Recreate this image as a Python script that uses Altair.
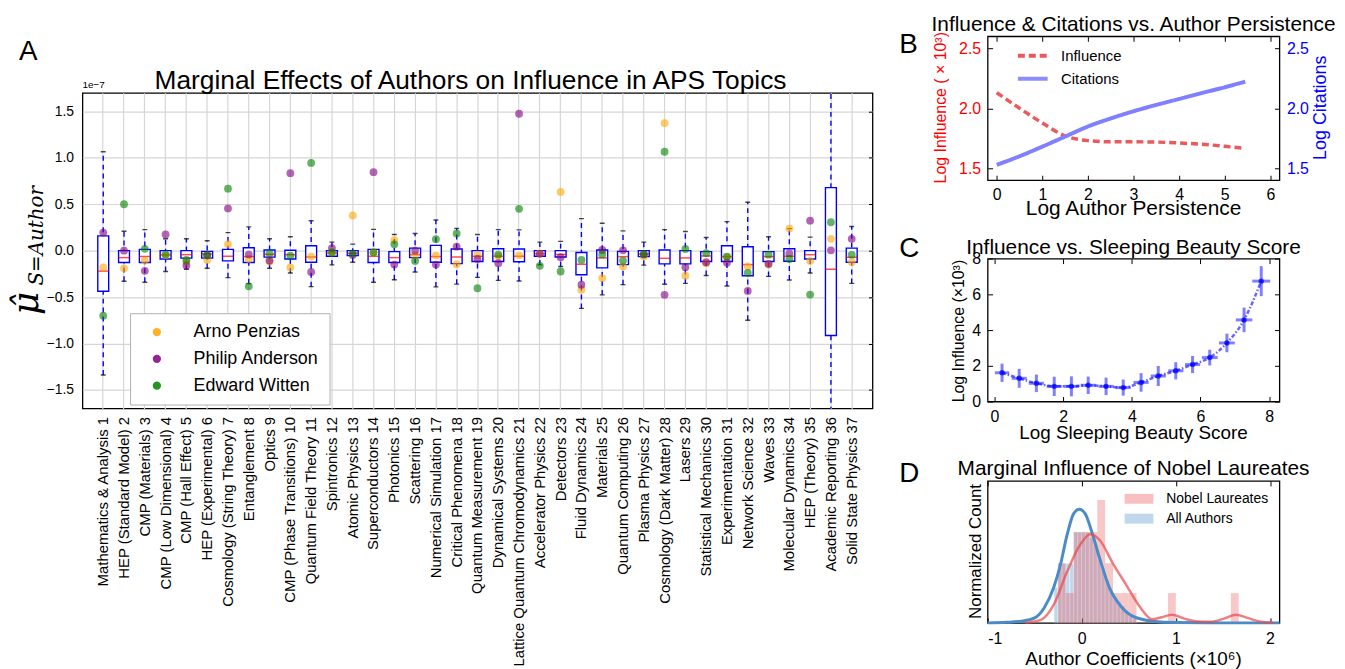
import altair as alt
import pandas as pd

FONT = "Liberation Sans"

# ---------------- Panel A data (values in units of 1e-7) ----------------
topics = ["Mathematics & Analysis 1", "HEP (Standard Model) 2", "CMP (Materials) 3", "CMP (Low Dimensional) 4",
          "CMP (Hall Effect) 5", "HEP (Experimental) 6", "Cosmology (String Theory) 7", "Entanglement 8",
          "Optics 9", "CMP (Phase Transitions) 10", "Quantum Field Theory 11", "Spintronics 12",
          "Atomic Physics 13", "Superconductors 14", "Photonics 15", "Scattering 16",
          "Numerical Simulation 17", "Critical Phenomena 18", "Quantum Measurement 19",
          "Dynamical Systems 20", "Lattice Quantum Chromodynamics 21", "Accelerator Physics 22",
          "Detectors 23", "Fluid Dynamics 24", "Materials  25", "Quantum Computing 26",
          "Plasma Physics 27", "Cosmology (Dark Matter) 28", "Lasers 29", "Statistical Mechanics 30",
          "Experimentation 31", "Network Science 32", "Waves 33", "Molecular Dynamics 34",
          "HEP (Theory) 35", "Academic Reporting 36", "Solid State Physics 37"]
whisker_low = [-1.34, -0.33, -0.34, -0.224, -0.20, -0.19, -0.29, -0.355, -0.19, -0.24, -0.387, -0.153,
               -0.124, -0.34, -0.313, -0.23, -0.39, -0.36, -0.288, -0.32, -0.327, -0.153, -0.17, -0.622,
               -0.476, -0.366, -0.156, -0.362, -0.352, -0.267, -0.38, -0.75, -0.277, -0.316, -0.24, -2.6,
               -0.352]
q1 = [-0.437, -0.128, -0.128, -0.09, -0.08, -0.08, -0.11, -0.128, -0.07, -0.09, -0.124, -0.06, -0.053,
      -0.128, -0.128, -0.075, -0.124, -0.139, -0.117, -0.117, -0.12, -0.06, -0.068, -0.26, -0.185, -0.15,
      -0.064, -0.142, -0.142, -0.117, -0.117, -0.27, -0.117, -0.114, -0.09, -0.913, -0.124]
median = [-0.22, -0.075, -0.064, -0.046, -0.043, -0.036, -0.06, -0.064, -0.04, -0.043, -0.068, -0.025,
          -0.028, -0.06, -0.075, -0.043, -0.064, -0.068, -0.06, -0.06, -0.06, -0.032, -0.04, -0.146,
          -0.078, -0.064, -0.036, -0.082, -0.078, -0.057, -0.064, -0.15, -0.064, -0.06, -0.043, -0.2,
          -0.071]
q3 = [0.16, 0.0, 0.014, 0.0, 0.0, -0.007, 0.014, 0.032, 0.007, 0.004, 0.053, 0.0, 0.0, 0.014, -0.01,
      0.028, 0.057, 0.018, 0.0, 0.021, 0.018, 0.0, 0.0, -0.02, 0.007, -0.007, 0.0, 0.007, 0.0, -0.01,
      0.053, 0.043, -0.01, 0.021, 0.0, 0.679, 0.028]
whisker_high = [1.066, 0.21, 0.227, 0.128, 0.128, 0.107, 0.195, 0.256, 0.128, 0.15, 0.323, 0.092, 0.071,
                0.23, 0.174, 0.185, 0.33, 0.24, 0.174, 0.227, 0.224, 0.092, 0.10, 0.345, 0.295, 0.213,
                0.092, 0.227, 0.206, 0.142, 0.313, 0.522, 0.15, 0.238, 0.146, 2.6, 0.26]
authors = ["Arno Penzias", "Philip Anderson", "Edward Witten"]
author_colors = ["orange", "purple", "green"]
penzias = [-0.18, -0.19, -0.107, -0.05, -0.12, -0.10, 0.07, -0.09, -0.117, -0.18, -0.064, -0.02, 0.38,
           -0.02, 0.114, -0.05, -0.05, -0.146, -0.043, -0.06, -0.05, -0.03, 0.633, -0.42, -0.295, -0.17,
           -0.064, 1.375, -0.27, -0.135, -0.07, -0.17, -0.15, 0.238, -0.11, 0.128, -0.124]
anderson = [0.195, 0.0, -0.217, 0.174, -0.16, -0.05, 0.455, -0.04, -0.107, 0.835, -0.23, 0.028, -0.046,
            0.846, -0.15, 0.0, -0.15, 0.043, -0.09, -0.135, 1.475, -0.035, -0.07, -0.366, 0.007, 0.004,
            -0.04, -0.476, -0.178, -0.124, -0.13, -0.434, -0.142, -0.03, 0.323, 0.004, 0.128]
witten = [-0.70, 0.50, 0.02, -0.04, -0.10, -0.046, 0.668, -0.384, -0.03, -0.053, 0.945, -0.018, -0.03,
          -0.02, 0.068, -0.11, 0.124, 0.185, -0.405, -0.04, 0.451, -0.163, -0.224, -0.1, -0.04, -0.107,
          -0.036, 1.066, 0.018, -0.028, -0.064, -0.24, -0.043, -0.09, -0.473, 0.306, -0.043]
a_yticks = [-1.5, -1.0, -0.5, 0.0, 0.5, 1.0, 1.5]

# ---------------- Panel B data ----------------
persist_x = [0, 0.5, 1, 1.5, 2, 2.5, 3, 3.5, 4, 4.5, 5, 5.45]
influence = [2.13, 2.0, 1.877, 1.77, 1.73, 1.72, 1.72, 1.718, 1.71, 1.70, 1.683, 1.664]
citations = [1.528, 1.60, 1.68, 1.764, 1.848, 1.915, 1.975, 2.028, 2.077, 2.127, 2.175, 2.222]

# ---------------- Panel C data ----------------
sb_x = [0.22, 0.72, 1.22, 1.74, 2.24, 2.73, 3.25, 3.75, 4.27, 4.77, 5.28, 5.77, 6.27, 6.77, 7.27, 7.77]
sb_y = [1.61, 1.30, 1.02, 0.85, 0.85, 0.91, 0.85, 0.78, 1.07, 1.43, 1.72, 2.07, 2.46, 3.28, 4.57, 6.74]
sb_yerr = [0.51, 0.53, 0.49, 0.54, 0.56, 0.49, 0.49, 0.45, 0.52, 0.56, 0.48, 0.48, 0.44, 0.52, 0.69, 0.84]
sb_xerr = [0.21, 0.22, 0.22, 0.22, 0.22, 0.22, 0.22, 0.22, 0.22, 0.22, 0.22, 0.22, 0.23, 0.23, 0.24, 0.26]

# ---------------- Panel D data ----------------
nobel_left = [-0.253, -0.170, -0.086, -0.003, 0.081, 0.165, 0.248, 0.332, 0.415, 0.499, 0.916, 1.584]
nobel_right = [-0.170, -0.086, -0.003, 0.081, 0.165, 0.248, 0.332, 0.415, 0.499, 0.582, 0.999, 1.667]
nobel_height = [0.42, 0.21, 0.64, 0.64, 0.64, 0.865, 0.42, 0.21, 0.21, 0.21, 0.21, 0.21]
all_left = [-0.295, -0.253, -0.211, -0.170, -0.128, -0.086, -0.044, -0.003, 0.039, 0.081, 0.123, 0.165,
            0.206, 0.248, 0.290, 0.332, 0.374, 0.415, 0.457, 0.499, 0.540]
all_right = [-0.253, -0.211, -0.170, -0.128, -0.086, -0.044, -0.003, 0.039, 0.081, 0.123, 0.165, 0.206,
             0.248, 0.290, 0.332, 0.374, 0.415, 0.457, 0.499, 0.540, 0.582]
all_height = [0.25, 0.42, 0.42, 0.42, 0.42, 0.64, 0.64, 0.64, 0.64, 0.60, 0.55, 0.45, 0.38, 0.30, 0.22,
              0.18, 0.15, 0.12, 0.08, 0.05, 0.03]
kde_all_x = [-1.0, -0.8, -0.64, -0.5, -0.4, -0.3, -0.226, -0.156, -0.086, -0.027, 0.036, 0.107, 0.19,
             0.296, 0.4, 0.54, 0.75, 1.0, 1.5, 2.1]
kde_all_y = [0.0, 0.004, 0.012, 0.035, 0.105, 0.245, 0.41, 0.62, 0.77, 0.80, 0.77, 0.64, 0.455, 0.245,
             0.13, 0.047, 0.012, 0.002, 0.0, 0.0]
kde_nobel_x = [-0.6, -0.43, -0.296, -0.156, -0.017, 0.09, 0.19, 0.33, 0.47, 0.61, 0.75, 0.85, 0.96, 1.09,
               1.23, 1.37, 1.51, 1.64, 1.76, 1.9, 2.04]
kde_nobel_y = [0.0, 0.023, 0.13, 0.36, 0.55, 0.624, 0.584, 0.42, 0.27, 0.12, 0.025, 0.04, 0.058, 0.03,
               0.01, 0.008, 0.03, 0.058, 0.035, 0.008, 0.0]
groups = ["Nobel Laureates", "All Authors"]

one = pd.DataFrame({"k": [0]})


def label(txt, x, y, size=28, align="left", color="black", angle=0, baseline="alphabetic", font=FONT,
          style="normal"):
    return alt.Chart(one).mark_text(text=txt, font=font, fontSize=size, align=align, angle=angle,
                                    baseline=baseline, color=color, fontStyle=style).encode(
        x=alt.value(x), y=alt.value(y))


def spacer(x1, y1, x2, y2):
    # invisible layout guide that fixes a panel's bounding box
    return alt.Chart(one).mark_rule(opacity=0, strokeWidth=0.1).encode(
        x=alt.value(x1), y=alt.value(y1), x2=alt.value(x2), y2=alt.value(y2))


# ================= Panel A header (letter) =================
headA = alt.layer(
    spacer(-64, 0, -64, 31),
    label("A", -64, 24),
).properties(width=10, height=1, view=alt.ViewBackground(strokeOpacity=0))

# ================= Panel A =================
WA, HA = 796, 318
box_df = pd.DataFrame({"topic": topics, "wlo": whisker_low, "q1": q1, "med": median, "q3": q3,
                       "whi": whisker_high})
rows = []
for name, vals in zip(authors, [penzias, anderson, witten]):
    for t, v in zip(topics, vals):
        rows.append({"topic": t, "author": name, "value": v})
pts_df = pd.DataFrame(rows)

xA = alt.X("topic:N", sort=topics,
           scale=alt.Scale(paddingInner=0.475, paddingOuter=0.7375),
           axis=alt.Axis(title=None, labelAngle=270, labelAlign="right", labelBaseline="middle",
                         labelFontSize=15, labelColor="black", labelPadding=8, ticks=False,
                         domain=False, grid=True, gridColor="#d6d6d6", gridWidth=1.2,
                         bandPosition=0.5, labelLimit=400))
yscaleA = alt.Scale(domain=[-1.7, 1.7], nice=False, zero=False)
yaxisA = alt.Axis(values=a_yticks, format=".1f", title=None, labelFontSize=14, labelColor="black",
                  grid=True, gridColor="#d6d6d6", gridWidth=1.2, ticks=False, domain=False,
                  labelPadding=9)
yaxisA_right = alt.Axis(orient="right", values=a_yticks, labels=False, title=None, offset=-4, tickSize=4,
                        domain=False, grid=False, tickColor="black")

baseA = alt.Chart(box_df)
whisk = baseA.mark_rule(color="blue", strokeDash=[5, 4], strokeWidth=1.4, clip=True).encode(
    x=xA, y=alt.Y("wlo:Q", scale=yscaleA, axis=yaxisA), y2="whi:Q")
boxes = baseA.mark_bar(fill="white", stroke="blue", strokeWidth=1.4, clip=True).encode(
    x=xA, y=alt.Y("q1:Q", scale=yscaleA, axis=None), y2="q3:Q")
meds = baseA.mark_tick(color="red", thickness=1.5, size=11).encode(
    x=xA, y=alt.Y("med:Q", scale=yscaleA, axis=None))
cap_lo = baseA.mark_tick(color="black", thickness=1.4, size=5, clip=True).encode(
    x=xA, y=alt.Y("wlo:Q", scale=yscaleA, axis=None))
cap_hi = baseA.mark_tick(color="black", thickness=1.4, size=5, clip=True).encode(
    x=xA, y=alt.Y("whi:Q", scale=yscaleA, axis=yaxisA_right))
dots = alt.Chart(pts_df).transform_calculate(
    ord="indexof(['Arno Penzias','Philip Anderson','Edward Witten'], datum.author)"
).mark_circle(size=62, opacity=0.6).encode(
    x=xA, y=alt.Y("value:Q", scale=yscaleA, axis=None),
    color=alt.Color("author:N", scale=alt.Scale(domain=authors, range=author_colors),
                    legend=alt.Legend(title=None, orient="none", legendX=48, legendY=222,
                                      fillColor="white", strokeColor="#b0b0b0", padding=10,
                                      labelFontSize=18, labelFont=FONT, symbolType="circle",
                                      symbolSize=70, symbolOpacity=0.85, symbolStrokeWidth=0,
                                      symbolOffset=8, labelOffset=28, rowPadding=9)),
    order=alt.Order("ord:Q"))

mu = label("\u03bc\u0302", -45, 212, size=36, align="center", angle=270, font="DejaVu Serif",
           style="italic")
mu_sub = label("S=Author", -40, 144, size=20, align="center", angle=270, font="DejaVu Serif",
               style="italic")

panelA = alt.layer(
    spacer(-74, 0, 816, 0), whisk, boxes, meds, cap_lo, cap_hi, dots, mu, mu_sub,
    label("Marginal Effects of Authors on Influence in APS Topics", 391, -4, size=26.5, align="center"),
    label("1e\u22127", 0, -3, size=10, baseline="bottom"),
).resolve_axis(y="independent").properties(width=WA, height=HA)

# ================= Panel B =================
WB, HB = 294, 145
infl_df = pd.DataFrame({"x": persist_x, "y": influence, "series": "Influence"})
cit_df = pd.DataFrame({"x": persist_x, "y": citations, "series": "Citations"})
xsB = alt.Scale(domain=[-0.2, 6.2], nice=False, zero=False)
ysB = alt.Scale(domain=[1.4, 2.6], nice=False, zero=False)
colB = alt.Color("series:N", scale=alt.Scale(domain=["Influence", "Citations"], range=["#e8474a", "#8080ff"]),
                 legend=alt.Legend(title=None, orient="none", legendX=38, legendY=12.2, padding=0,
                                   symbolType="M-3,0H3", symbolSize=100, symbolStrokeWidth=4,
                                   labelFontSize=15, labelFont=FONT, labelOffset=21, rowPadding=6))
dashB = alt.StrokeDash("series:N", scale=alt.Scale(domain=["Influence", "Citations"], range=[[7, 4], [1, 0]]),
                       legend=None)
tick_kw = dict(offset=-5, tickSize=5, domain=False, grid=False, tickColor="black", title=None)
lineI = alt.Chart(infl_df).mark_line(strokeWidth=3.5, opacity=0.9, interpolate="monotone").encode(
    x=alt.X("x:Q", scale=xsB, axis=alt.Axis(values=[0, 1, 2, 3, 4, 5, 6], labelFontSize=16, labelPadding=6,
                                             labelColor="black", **tick_kw)),
    y=alt.Y("y:Q", scale=ysB, axis=alt.Axis(values=[1.5, 2.0, 2.5], format=".1f", orient="left",
                                             labelColor="red", labelFontSize=16, labelPadding=7, **tick_kw)),
    color=colB, strokeDash=dashB)
lineC = alt.Chart(cit_df).mark_line(strokeWidth=4, interpolate="monotone").encode(
    x=alt.X("x:Q", scale=xsB, axis=alt.Axis(orient="top", values=[0, 1, 2, 3, 4, 5, 6], labels=False,
                                             **tick_kw)),
    y=alt.Y("y:Q", scale=ysB, axis=alt.Axis(values=[1.5, 2.0, 2.5], format=".1f", orient="right",
                                             labelColor="blue", labelFontSize=16, labelPadding=7, **tick_kw)),
    color=colB, strokeDash=dashB)
panelB = alt.layer(
    spacer(-94, -25, -94, 197), lineI, lineC, label("B", -89, 17),
    label("Influence & Citations vs. Author Persistence", WB / 2, -5, size=21, align="center"),
    label("Log Author Persistence", WB / 2, 180.3, size=21, align="center"),
    label("Log Influence ( \u00d7 10\u00b3)", -42, 72, size=16, align="center", angle=270, color="red"),
    label("Log Citations", 341, 72, size=18, align="center", angle=270, color="blue"),
).resolve_scale(y="independent").resolve_axis(x="independent", y="independent").properties(
    width=WB, height=HB)

# ================= Panel C =================
WC, HC = 294, 144
sb_df = pd.DataFrame({"x": sb_x, "y": sb_y, "yerr": sb_yerr, "xerr": sb_xerr})
sb_df["ylo"] = sb_df["y"] - sb_df["yerr"]
sb_df["yhi"] = sb_df["y"] + sb_df["yerr"]
sb_df["xlo"] = sb_df["x"] - sb_df["xerr"]
sb_df["xhi"] = sb_df["x"] + sb_df["xerr"]
xsC = alt.Scale(domain=[-0.2, 8.3], nice=False, zero=False)
ysC = alt.Scale(domain=[0, 8], nice=False, zero=False)
baseC = alt.Chart(sb_df)
lineSB = baseC.mark_line(color="blue", strokeWidth=2.5, opacity=0.6, strokeDash=[4, 2, 1.5, 2],
                         interpolate="monotone").encode(
    x=alt.X("x:Q", scale=xsC, axis=alt.Axis(values=[0, 2, 4, 6, 8], labelFontSize=16, labelPadding=7,
                                             labelColor="black", **tick_kw)),
    y=alt.Y("y:Q", scale=ysC, axis=alt.Axis(values=[0, 2, 4, 6, 8], labelFontSize=16, labelPadding=7,
                                             labelColor="black", **tick_kw)))
yerrC = baseC.mark_rule(color="blue", strokeWidth=3, opacity=0.5).encode(
    x=alt.X("x:Q", scale=xsC, axis=None), y=alt.Y("ylo:Q", scale=ysC, axis=None), y2="yhi:Q")
xerrC = baseC.mark_rule(color="blue", strokeWidth=3, opacity=0.5).encode(
    x=alt.X("xlo:Q", scale=xsC, axis=None), x2="xhi:Q", y=alt.Y("y:Q", scale=ysC, axis=None))
ptsC = baseC.mark_circle(color="blue", size=30, opacity=0.7).encode(
    x=alt.X("x:Q", scale=xsC, axis=alt.Axis(orient="top", values=[0, 2, 4, 6, 8], labels=False, **tick_kw)),
    y=alt.Y("y:Q", scale=ysC, axis=alt.Axis(orient="right", values=[0, 2, 4, 6, 8], labels=False, **tick_kw)))
panelC = alt.layer(
    spacer(-94, -25, -94, 197.3), lineSB, yerrC, xerrC, ptsC, label("C", -89, -2),
    label("Influence vs. Sleeping Beauty Score", WC / 2, -5, size=21, align="center"),
    label("Log Sleeping Beauty Score", WC / 2, 181.7, size=19, align="center"),
    label("Log Influence (\u00d710\u00b3)", -23.5, 73, size=16, align="center", angle=270),
).resolve_axis(x="independent", y="independent").properties(width=WC, height=HC)

# ================= Panel D =================
WD, HD = 294, 143
nob_df = pd.DataFrame({"l": nobel_left, "r": nobel_right, "h": nobel_height, "group": "Nobel Laureates"})
all_df = pd.DataFrame({"l": all_left, "r": all_right, "h": all_height, "group": "All Authors"})
kall_df = pd.DataFrame({"x": kde_all_x, "y": kde_all_y})
knob_df = pd.DataFrame({"x": kde_nobel_x, "y": kde_nobel_y})
xsD = alt.Scale(domain=[-1.0, 2.1], nice=False, zero=False)
ysD = alt.Scale(domain=[0, 1], nice=False, zero=False)
colD = alt.Color("group:N", scale=alt.Scale(domain=groups, range=["#e8484b", "#4a8cc8"]),
                 legend=alt.Legend(title=None, orient="none", legendX=145.5, legendY=11, padding=0,
                                   symbolType="M-2.9,-1H2.9V1H-2.9Z", symbolSize=100,
                                   symbolOpacity=0.35, symbolStrokeWidth=0, labelFontSize=14,
                                   labelFont=FONT, labelOffset=20.5, rowPadding=6))
histAll = alt.Chart(all_df).mark_rect(opacity=0.35, stroke="white", strokeWidth=0.6).encode(
    x=alt.X("l:Q", scale=xsD, axis=alt.Axis(values=[-1, 0, 1, 2], labelFontSize=16, labelPadding=8,
                                             labelColor="black",
                                             labelExpr="replace(datum.label, '\u2212', '-')", **tick_kw)),
    x2="r:Q",
    y=alt.Y("h:Q", scale=ysD, axis=None),
    y2=alt.datum(0),
    color=colD)
histNob = alt.Chart(nob_df).mark_rect(opacity=0.3).encode(
    x=alt.X("l:Q", scale=xsD, axis=None), x2="r:Q",
    y=alt.Y("h:Q", scale=ysD, axis=None), y2=alt.datum(0), color=colD)
kAll = alt.Chart(kall_df).mark_line(color="#4a8cc8", strokeWidth=3, interpolate="monotone").encode(
    x=alt.X("x:Q", scale=xsD, axis=alt.Axis(orient="top", values=[-1, 0, 1, 2], labels=False, **tick_kw)),
    y=alt.Y("y:Q", scale=ysD, axis=None))
kNob = alt.Chart(knob_df).mark_line(color="#e8484b", strokeWidth=2.5, opacity=0.7,
                                    interpolate="monotone").encode(
    x=alt.X("x:Q", scale=xsD, axis=None), y=alt.Y("y:Q", scale=ysD, axis=None))
panelD = alt.layer(
    spacer(-94, -25, -94, 190), histAll, histNob, kAll, kNob, label("D", -89, 1),
    label("Marginal Influence of Nobel Laureates", WD / 2, -6, size=21, align="center"),
    label("Author Coefficients (\u00d710\u2076)", WD / 2, 185, size=19, align="center"),
    label("Normalized Count", -7, 71, size=17, align="center", angle=270),
).resolve_axis(x="independent", y="independent").properties(width=WD, height=HD)

left = alt.vconcat(headA, panelA, spacing=0).resolve_scale(color="independent")
right = alt.vconcat(panelB, panelC, panelD, spacing=0).resolve_scale(color="independent",
                                                                       strokeDash="independent")
chart = alt.hconcat(left, right, spacing=0).resolve_scale(
    color="independent", strokeDash="independent").properties(padding=0).configure_view(
    stroke="black", strokeWidth=1.3).configure_axis(
    labelFont=FONT, titleFont=FONT).configure_legend(labelFont=FONT)

chart.save("out.html", embed_options={"renderer": "svg", "actions": False})
